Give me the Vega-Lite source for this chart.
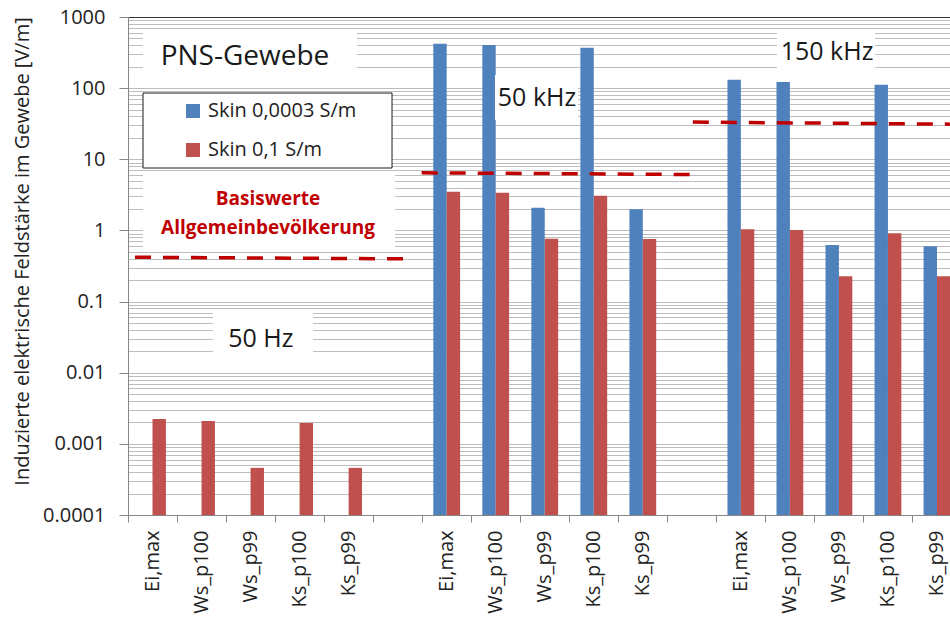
{
  "$schema": "https://vega.github.io/schema/vega-lite/v6.json",
  "autosize": {"type": "none"},
  "width": 822,
  "height": 498,
  "padding": {"left": 128, "top": 17, "right": 0, "bottom": 104},
  "background": "white",
  "config": {
    "view": {"stroke": null},
    "font": "Open Sans",
    "text": {"font": "Open Sans"}
  },
  "datasets": {
    "bars": [
      {"slot": "50Hz|Ei,max", "series": "Skin 0,1 S/m", "v": 0.00224},
      {"slot": "50Hz|Ws_p100", "series": "Skin 0,1 S/m", "v": 0.0021},
      {"slot": "50Hz|Ws_p99", "series": "Skin 0,1 S/m", "v": 0.00046},
      {"slot": "50Hz|Ks_p100", "series": "Skin 0,1 S/m", "v": 0.00197},
      {"slot": "50Hz|Ks_p99", "series": "Skin 0,1 S/m", "v": 0.00046},
      {"slot": "50kHz|Ei,max", "series": "Skin 0,0003 S/m", "v": 421},
      {"slot": "50kHz|Ws_p100", "series": "Skin 0,0003 S/m", "v": 403},
      {"slot": "50kHz|Ws_p99", "series": "Skin 0,0003 S/m", "v": 2.08},
      {"slot": "50kHz|Ks_p100", "series": "Skin 0,0003 S/m", "v": 370},
      {"slot": "50kHz|Ks_p99", "series": "Skin 0,0003 S/m", "v": 1.99},
      {"slot": "50kHz|Ei,max", "series": "Skin 0,1 S/m", "v": 3.49},
      {"slot": "50kHz|Ws_p100", "series": "Skin 0,1 S/m", "v": 3.38},
      {"slot": "50kHz|Ws_p99", "series": "Skin 0,1 S/m", "v": 0.762},
      {"slot": "50kHz|Ks_p100", "series": "Skin 0,1 S/m", "v": 3.07},
      {"slot": "50kHz|Ks_p99", "series": "Skin 0,1 S/m", "v": 0.76},
      {"slot": "150kHz|Ei,max", "series": "Skin 0,0003 S/m", "v": 131},
      {"slot": "150kHz|Ws_p100", "series": "Skin 0,0003 S/m", "v": 122},
      {"slot": "150kHz|Ws_p99", "series": "Skin 0,0003 S/m", "v": 0.626},
      {"slot": "150kHz|Ks_p100", "series": "Skin 0,0003 S/m", "v": 112},
      {"slot": "150kHz|Ks_p99", "series": "Skin 0,0003 S/m", "v": 0.6},
      {"slot": "150kHz|Ei,max", "series": "Skin 0,1 S/m", "v": 1.04},
      {"slot": "150kHz|Ws_p100", "series": "Skin 0,1 S/m", "v": 1.01},
      {"slot": "150kHz|Ws_p99", "series": "Skin 0,1 S/m", "v": 0.227},
      {"slot": "150kHz|Ks_p100", "series": "Skin 0,1 S/m", "v": 0.914},
      {"slot": "150kHz|Ks_p99", "series": "Skin 0,1 S/m", "v": 0.227}
    ],
    "boxes": [
      {"name": "PNS", "x1": 0.306, "x2": 4.67, "v": 656.9, "v2": 130.2},
      {"name": "Basis", "x1": 0.306, "x2": 5.446, "v": 6.03, "v2": 0.585},
      {"name": "50Hz", "x1": 1.734, "x2": 3.773, "v": 0.0713, "v2": 0.01954},
      {"name": "50kHz", "x1": 7.485, "x2": 9.178, "v": 152.9, "v2": 35.7},
      {"name": "150kHz", "x1": 13.237, "x2": 15.236, "v": 656.9, "v2": 191.9}
    ],
    "frame": [
      {"x1": 0.306, "x2": 5.385, "v": 85.4, "v2": 7.54}
    ],
    "limits": [
      {"grp": "50Hz", "pos": 0.143, "v": 0.42},
      {"grp": "50Hz", "pos": 5.609, "v": 0.399},
      {"grp": "50kHz", "pos": 5.99, "v": 6.46},
      {"grp": "50kHz", "pos": 11.483, "v": 6.11},
      {"grp": "150kHz", "pos": 11.52, "v": 33.3},
      {"grp": "150kHz", "pos": 17.0, "v": 31.1}
    ],
    "freq": [
      {"label": "50 kHz", "pos": 8.342, "v": 72.7},
      {"label": "150 kHz", "pos": 14.257, "v": 322},
      {"label": "50 Hz", "pos": 2.71, "v": 0.0298}
    ],
    "title": [
      {"label": "PNS-Gewebe", "pos": 2.386, "v": 273.8}
    ],
    "basis": [
      {"label": "Basiswerte", "pos": 2.855, "v": 2.77},
      {"label": "Allgemeinbevölkerung", "pos": 2.855, "v": 1.081}
    ]
  },
  "layer": [
    {
      "data": {"name": "bars"},
      "mark": {"type": "bar"},
      "encoding": {
        "x": {
          "field": "slot",
          "type": "nominal",
          "sort": null,
          "scale": {
            "domain": ["50Hz|Ei,max","50Hz|Ws_p100","50Hz|Ws_p99","50Hz|Ks_p100","50Hz|Ks_p99","50Hz|",
                       "50kHz|Ei,max","50kHz|Ws_p100","50kHz|Ws_p99","50kHz|Ks_p100","50kHz|Ks_p99","50kHz|",
                       "150kHz|Ei,max","150kHz|Ws_p100","150kHz|Ws_p99","150kHz|Ks_p100","150kHz|Ks_p99"],
            "range": [0, 833.5],
            "paddingInner": 0,
            "paddingOuter": 0
          },
          "axis": {
            "title": null,
            "labelExpr": "split(datum.value, '|')[1]",
            "labelAngle": -90,
            "labelAlign": "right",
            "labelBaseline": "middle",
            "labelFontSize": 20,
            "labelFont": "Open Sans",
            "labelColor": "#222222",
            "labelPadding": 8,
            "labelLimit": 300,
            "labelOverlap": false,
            "tickBand": "extent",
            "tickSize": 7,
            "tickColor": "#868686",
            "domainColor": "#868686",
            "grid": false
          }
        },
        "xOffset": {
          "field": "series",
          "type": "nominal",
          "scale": {"domain": ["Skin 0,0003 S/m", "Skin 0,1 S/m"], "paddingInner": 0, "paddingOuter": 0.83}
        },
        "y": {
          "field": "v",
          "type": "quantitative",
          "title": "Induzierte elektrische Feldstärke im Gewebe [V/m]",
          "scale": {"type": "log", "domain": [0.0001, 1000], "nice": false},
          "axis": {
            "values": [0.0001,0.0002,0.0003,0.0004,0.0005,0.0006,0.0007,0.0008,0.0009,
                       0.001,0.002,0.003,0.004,0.005,0.006,0.007,0.008,0.009,
                       0.01,0.02,0.03,0.04,0.05,0.06,0.07,0.08,0.09,
                       0.1,0.2,0.3,0.4,0.5,0.6,0.7,0.8,0.9,
                       1,2,3,4,5,6,7,8,9,
                       10,20,30,40,50,60,70,80,90,
                       100,200,300,400,500,600,700,800,900,
                       1000],
            "labelExpr": "indexof([0.0001,0.001,0.01,0.1,1,10,100,1000], datum.value) >= 0 ? toString(datum.value) : ''",
            "labelFontSize": 20,
            "labelFont": "Open Sans",
            "labelColor": "#222222",
            "labelPadding": 14,
            "labelOverlap": false,
            "labelBound": false,
            "labelFlush": false,
            "tickSize": 9,
            "tickColor": "#868686",
            "tickOpacity": {"condition": {"test": "indexof([0.0001,0.001,0.01,0.1,1,10,100,1000], datum.value) >= 0", "value": 1}, "value": 0},
            "domainColor": "#868686",
            "grid": true,
            "gridColor": {"condition": {"test": "datum.value == 1000", "value": "#333333"}, "value": "#bdbdbd"},
            "gridWidth": 1,
            "titleFont": "Open Sans",
            "titleFontSize": 20,
            "titleFontWeight": "normal",
            "titleColor": "#222222",
            "titleX": -106,
            "titleY": 234,
            "titleAlign": "center",
            "titleBaseline": "middle",
            "titleAngle": -90
          }
        },
        "y2": {"datum": 0.0001},
        "color": {
          "field": "series",
          "type": "nominal",
          "scale": {"domain": ["Skin 0,0003 S/m", "Skin 0,1 S/m"], "range": ["#4F81BD", "#C0504D"]},
          "legend": {
            "orient": "none",
            "legendX": 55,
            "legendY": 84,
            "title": null,
            "symbolType": "square",
            "symbolSize": 196,
            "symbolStrokeWidth": 0,
            "labelFontSize": 20,
            "labelFont": "Open Sans",
            "labelColor": "#222222",
            "labelOffset": 5,
            "rowPadding": 19,
            "padding": 0,
            "labelLimit": 300
          }
        }
      }
    },
    {
      "data": {"name": "boxes"},
      "mark": {"type": "rect", "fill": "white", "strokeWidth": 0},
      "encoding": {
        "x": {"field": "x1", "type": "quantitative", "scale": {"domain": [0, 17], "range": [0, 833.5], "zero": false, "nice": false}, "axis": null},
        "x2": {"field": "x2"},
        "y": {"field": "v", "type": "quantitative", "title": "Induzierte elektrische Feldstärke im Gewebe [V/m]", "scale": {"type": "log", "domain": [0.0001, 1000], "nice": false}},
        "y2": {"field": "v2"}
      }
    },
    {
      "data": {"name": "frame"},
      "mark": {"type": "rect", "fill": "white", "stroke": "#1a1a1a", "strokeWidth": 1},
      "encoding": {
        "x": {"field": "x1", "type": "quantitative", "scale": {"domain": [0, 17], "range": [0, 833.5], "zero": false, "nice": false}, "axis": null},
        "x2": {"field": "x2"},
        "y": {"field": "v", "type": "quantitative", "title": "Induzierte elektrische Feldstärke im Gewebe [V/m]", "scale": {"type": "log", "domain": [0.0001, 1000], "nice": false}},
        "y2": {"field": "v2"}
      }
    },
    {
      "data": {"name": "limits"},
      "mark": {"type": "line", "color": "#C00000", "strokeWidth": 3.5, "strokeDash": [16, 12]},
      "encoding": {
        "x": {"field": "pos", "type": "quantitative", "scale": {"domain": [0, 17], "range": [0, 833.5], "zero": false, "nice": false}, "axis": null},
        "y": {"field": "v", "type": "quantitative", "title": "Induzierte elektrische Feldstärke im Gewebe [V/m]", "scale": {"type": "log", "domain": [0.0001, 1000], "nice": false}},
        "detail": {"field": "grp", "type": "nominal"}
      }
    },
    {
      "data": {"name": "freq"},
      "mark": {"type": "text", "fontSize": 25, "font": "Open Sans", "color": "#1a1a1a", "align": "center", "baseline": "middle"},
      "encoding": {
        "x": {"field": "pos", "type": "quantitative", "scale": {"domain": [0, 17], "range": [0, 833.5], "zero": false, "nice": false}, "axis": null},
        "y": {"field": "v", "type": "quantitative", "title": "Induzierte elektrische Feldstärke im Gewebe [V/m]", "scale": {"type": "log", "domain": [0.0001, 1000], "nice": false}},
        "text": {"field": "label"}
      }
    },
    {
      "data": {"name": "title"},
      "mark": {"type": "text", "fontSize": 28, "font": "Open Sans", "color": "#1a1a1a", "align": "center", "baseline": "middle"},
      "encoding": {
        "x": {"field": "pos", "type": "quantitative", "scale": {"domain": [0, 17], "range": [0, 833.5], "zero": false, "nice": false}, "axis": null},
        "y": {"field": "v", "type": "quantitative", "title": "Induzierte elektrische Feldstärke im Gewebe [V/m]", "scale": {"type": "log", "domain": [0.0001, 1000], "nice": false}},
        "text": {"field": "label"}
      }
    },
    {
      "data": {"name": "basis"},
      "mark": {"type": "text", "fontSize": 19, "fontWeight": "bold", "font": "Open Sans", "color": "#C00000", "align": "center", "baseline": "middle"},
      "encoding": {
        "x": {"field": "pos", "type": "quantitative", "scale": {"domain": [0, 17], "range": [0, 833.5], "zero": false, "nice": false}, "axis": null},
        "y": {"field": "v", "type": "quantitative", "title": "Induzierte elektrische Feldstärke im Gewebe [V/m]", "scale": {"type": "log", "domain": [0.0001, 1000], "nice": false}},
        "text": {"field": "label"}
      }
    }
  ],
  "resolve": {"scale": {"x": "independent"}}
}
